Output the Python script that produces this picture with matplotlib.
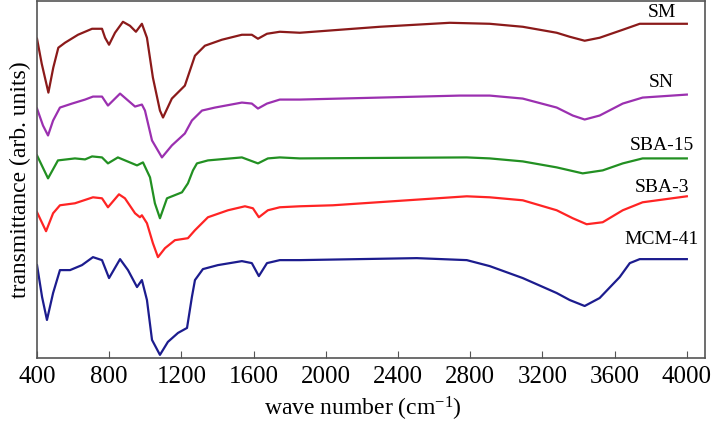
import numpy as np
import matplotlib
matplotlib.use("Agg")
import matplotlib.pyplot as plt

plt.rcParams['font.family'] = ['Liberation Serif', 'DejaVu Serif']
plt.rcParams['mathtext.fontset'] = 'custom'
plt.rcParams['mathtext.rm'] = 'Liberation Serif'
plt.rcParams['mathtext.it'] = 'Liberation Serif:italic'

# transmittance in arbitrary units, each sample already offset vertically
sm_x = [400, 426, 463, 490, 518, 555, 627, 705, 760, 777, 799, 832, 876, 915, 948, 981, 1009, 1042, 1081, 1098,
        1147, 1219, 1247, 1275, 1330, 1424, 1535, 1590, 1624, 1674, 1745, 1856, 2299, 2687, 2908, 3091, 3279, 3351,
        3434, 3517, 3645, 3739, 4000]
sm_y = [320, 295, 266, 291, 311, 316, 324, 330, 330, 321, 314, 326, 337, 333, 327, 335, 321, 281, 248, 241,
        260, 273, 288, 303, 313, 319, 324, 324, 320, 325, 327, 326, 332, 336, 335, 332, 326, 322,
        318, 321, 329, 335, 335]

sn_x = [400, 433, 461, 489, 527, 594, 666, 710, 760, 793, 860, 943, 981, 998, 1037, 1092, 1147, 1219, 1258, 1314,
        1386, 1535, 1590, 1624, 1674, 1745, 1856, 2742, 2908, 3091, 3279, 3368, 3434, 3517, 3645, 3755, 4000]
sn_y = [250, 233, 223, 238, 251, 255, 259, 262, 262, 253, 265, 252, 254, 248, 218, 201, 213, 225, 238, 248,
        251, 256, 255, 250, 255, 259, 259, 263, 263, 260, 251, 243, 239, 243, 255, 261, 264]

sba15_x = [400, 461, 516, 610, 666, 705, 760, 793, 848, 954, 987, 1026, 1053, 1081, 1120, 1203, 1236, 1264, 1286,
           1347, 1535, 1624, 1679, 1745, 1856, 2781, 2908, 3091, 3279, 3423, 3534, 3645, 3755, 4000]
sba15_y = [203, 180, 198, 200, 199, 202, 201, 195, 201, 193, 196, 181, 155, 140, 160, 166, 175, 188, 195,
           198, 201, 195, 200, 201, 200, 201, 200, 197, 191, 185, 188, 195, 200, 200]

sba3_x = [400, 450, 489, 527, 610, 710, 760, 793, 854, 887, 943, 970, 981, 1009, 1042, 1070, 1109, 1164, 1236, 1275,
          1347, 1458, 1552, 1596, 1629, 1679, 1745, 1856, 2039, 2781, 2908, 3091, 3279, 3368, 3445, 3534, 3645, 3755,
          4000]
sba3_y = [146, 127, 145, 153, 155, 161, 160, 151, 164, 160, 145, 141, 143, 135, 115, 101, 110, 118, 120, 128,
          141, 148, 152, 150, 141, 148, 151, 152, 153, 162, 161, 158, 148, 140, 134, 136, 148, 156,
          162]

mcm41_x = [400, 428, 455, 489, 527, 583, 649, 710, 760, 799, 860, 904, 954, 981, 1009, 1037, 1081, 1125, 1181, 1231,
           1258, 1275, 1319, 1402, 1535, 1590, 1629, 1674, 1745, 1856, 2504, 2781, 2908, 3091, 3279, 3351, 3434, 3517,
           3628, 3684, 3739, 4000]
mcm41_y = [93, 61, 38, 65, 88, 88, 93, 101, 98, 80, 99, 88, 71, 78, 58, 18, 3, 16, 25, 30,
           61, 78, 89, 93, 97, 95, 82, 95, 98, 98, 100, 98, 92, 80, 65, 58, 52, 60,
           81, 95, 99, 99]

names = ['SM', 'SN', 'SBA-15', 'SBA-3', 'MCM-41']
colors = ['#8b1a1a', '#9b30b0', '#229022', '#ff2424', '#1c1c8e']
label_pos = [(3860, 346), (3860, 276), (3860, 213), (3860, 171), (3860, 119)]

series = [(sm_x, sm_y), (sn_x, sn_y), (sba15_x, sba15_y), (sba3_x, sba3_y), (mcm41_x, mcm41_y)]

fig = plt.figure(figsize=(7.12, 4.24), dpi=100)
ax = fig.add_axes([0.052, 0.156, 0.938, 0.842])

for (x, y), c in zip(series, colors):
    ax.plot(x, y, color=c, lw=1.6, solid_joinstyle='round')

for n, (lx, ly) in zip(names, label_pos):
    ax.text(lx, ly, n, fontsize=14, ha='center', va='center')

ax.set_xlim(400, 4100)
ax.set_ylim(0, 358)
ax.set_xticks(np.arange(400, 4001, 400))
ax.set_yticks([])
ax.tick_params(axis='x', direction='in', length=5, labelsize=18, pad=6, color='#555555')
for s in ax.spines.values():
    s.set_color('#555555')
    s.set_linewidth(1.2)

ax.set_xlabel('wave number (cm$^{-1}$)', fontsize=17)
ax.xaxis.set_label_coords(0.488, -0.105)
ax.set_ylabel('transmittance (arb. units)', fontsize=17, labelpad=4)

fig.savefig('out.png', dpi=100)
